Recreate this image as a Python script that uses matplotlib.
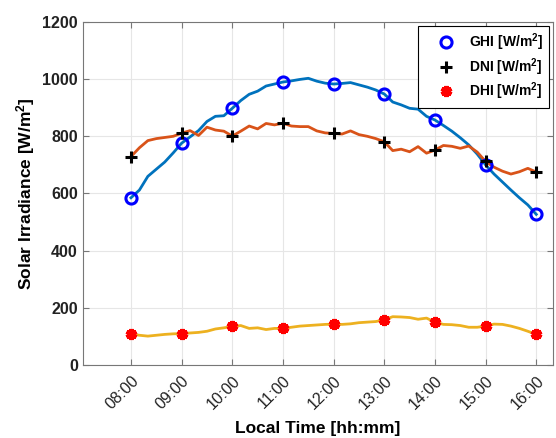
import numpy as np
import matplotlib
matplotlib.use("Agg")
import matplotlib.pyplot as plt

plt.rcParams['font.family'] = ['Liberation Sans', 'DejaVu Sans']
plt.rcParams['mathtext.fontset'] = 'custom'
plt.rcParams['mathtext.rm'] = 'Liberation Sans'
plt.rcParams['mathtext.bf'] = 'Liberation Sans:bold'
plt.rcParams['mathtext.default'] = 'bf'

# 10 minute samples, 08:00 .. 16:00
t = 8 + np.arange(49) / 6.0

ghi = [585, 612, 660, 685, 710, 742, 776, 798, 820, 852, 870, 872,
       898, 925, 947, 958, 976, 983, 990, 994, 999, 1003, 993, 986,
       983, 985, 988, 980, 972, 962, 948, 920, 910, 898, 895, 870,
       857, 838, 818, 795, 770, 738, 700, 668, 640, 612, 585, 560, 527]
dni = [729, 760, 785, 792, 796, 800, 811, 820, 803, 832, 822, 818,
       801, 818, 836, 826, 845, 840, 846, 836, 834, 834, 819, 812,
       810, 808, 819, 806, 800, 792, 781, 750, 755, 746, 764, 741,
       752, 768, 765, 758, 766, 745, 712, 692, 678, 668, 676, 688, 675]
dhi = [108, 104, 101, 104, 107, 109, 110, 112, 114, 118, 126, 130,
       135, 138, 128, 130, 124, 128, 128, 132, 136, 138, 140, 142,
       143, 142, 144, 148, 150, 152, 158, 169, 168, 166, 160, 164,
       150, 142, 141, 138, 132, 132, 136, 143, 142, 136, 128, 118, 107]

# hourly marker values
hours = [8, 9, 10, 11, 12, 13, 14, 15, 16]
ghi_h = [585, 776, 898, 990, 983, 948, 857, 700, 527]
dni_h = [729, 811, 801, 846, 810, 781, 752, 712, 675]
dhi_h = [108, 110, 135, 128, 143, 158, 150, 136, 107]
tick_labels = ['08:00', '09:00', '10:00', '11:00', '12:00',
               '13:00', '14:00', '15:00', '16:00']

fig = plt.figure(figsize=(5.56, 4.38), dpi=100)
ax = fig.add_axes([0.149, 0.1667, 0.8456, 0.7831])

ax.plot(t, ghi, color='#0072BD', lw=2.0, zorder=3)
ax.plot(t, dni, color='#D95319', lw=2.0, zorder=3)
ax.plot(t, dhi, color='#EDB120', lw=2.0, zorder=3)

ax.plot(hours, ghi_h, ls='none', marker='o', ms=8, mfc='none', mec='#0000FF',
        mew=2.2, zorder=4, label='GHI [W/m$^2$]')
ax.plot(hours, dni_h, ls='none', marker='+', ms=8, mec='black',
        mew=2.2, zorder=4, label='DNI [W/m$^2$]')
ax.plot(hours, dhi_h, ls='none', marker=(6, 2, 0), ms=8, mec='#FF0000',
        mew=3, zorder=4, label='DHI [W/m$^2$]')

ax.set_xlim(7.05, 16.33)
ax.set_ylim(0, 1200)
ax.set_xticks(hours)
ax.set_xticklabels(tick_labels, rotation=45, ha='right', rotation_mode='anchor',
                   fontsize=11.5, color='#222222')
ax.set_yticks(range(0, 1201, 200))
for lab in ax.get_yticklabels():
    lab.set_fontweight('bold')
    lab.set_fontsize(11.5)
    lab.set_color('#222222')

ax.grid(True, color='#e6e6e6', lw=0.8)
ax.set_axisbelow(True)
ax.tick_params(direction='in', top=True, right=True, length=4, color='#777777')
ax.tick_params(axis='x', pad=6)
for s in ax.spines.values():
    s.set_color('#777777')

ax.set_xlabel('Local Time [hh:mm]', fontsize=12.5, fontweight='bold', labelpad=6)
ax.set_ylabel('Solar Irradiance [W/m$^2$]', fontsize=12.5, fontweight='bold', labelpad=4)

leg = ax.legend(loc='upper right', prop={'weight': 'bold', 'size': 10},
                fancybox=False, edgecolor='black', framealpha=1,
                borderaxespad=0.3, handletextpad=0.1, handlelength=3.2,
                labelspacing=0.2, borderpad=0.4)
leg.get_frame().set_linewidth(0.8)

fig.savefig('out.png', dpi=100)
